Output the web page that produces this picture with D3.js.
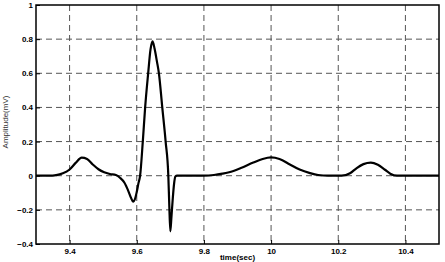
<!DOCTYPE html>
<html>
<head>
<meta charset="utf-8">
<script src="https://cdn.jsdelivr.net/npm/d3@7"></script>
<style>
  html, body { margin: 0; padding: 0; background: #fff; }
  svg { display: block; font-family: 'Liberation Sans', Arial, sans-serif; }
  .tick-label {
    font-family: 'Liberation Sans', Arial, sans-serif;
    font-size: 8px;
    font-weight: bold;
    fill: #000;
  }
</style>
</head>
<body>
<div id="chart"></div>
<script>
// samples
const timeSec = [
  9.30, 9.34, 9.36, 9.38, 9.399, 9.418, 9.436, 9.452, 9.469, 9.486, 9.503,
  9.520, 9.538, 9.550, 9.563, 9.575, 9.583, 9.589, 9.595, 9.600, 9.605, 9.610,
  9.618, 9.625, 9.634, 9.641, 9.647, 9.653, 9.660, 9.666, 9.676, 9.686, 9.694,
  9.697, 9.700, 9.703, 9.707, 9.711, 9.715, 9.72, 9.80, 9.83, 9.855, 9.878,
  9.91, 9.947, 9.975, 10.0, 10.025, 10.056, 10.085, 10.116, 10.14, 10.17,
  10.21, 10.235, 10.255, 10.275, 10.297, 10.318, 10.339, 10.355, 10.375, 10.5
];
const ecgMv = [
  0, 0, 0.003, 0.014, 0.035, 0.075, 0.106, 0.098, 0.066, 0.038, 0.02,
  0.01, 0.004, -0.012, -0.04, -0.09, -0.13, -0.152, -0.135, -0.095, -0.045, 0.0,
  0.2, 0.4, 0.6, 0.74, 0.787, 0.745, 0.67, 0.6, 0.4, 0.2, 0.0,
  -0.18, -0.326, -0.25, -0.14, -0.05, -0.005, 0, 0, 0.004, 0.012, 0.022,
  0.045, 0.077, 0.098, 0.107, 0.098, 0.066, 0.036, 0.015, 0.004, 0,
  0, 0.014, 0.045, 0.068, 0.077, 0.064, 0.035, 0.012, 0, 0
];
const xTicks = [9.4, 9.6, 9.8, 10, 10.2, 10.4];
const yTicks = [-0.4, -0.2, 0, 0.2, 0.4, 0.6, 0.8, 1];

const width = 445;
const height = 262;
const margin = { top: 5, right: 6, bottom: 18, left: 36 };
const plotW = width - margin.left - margin.right;
const plotH = height - margin.top - margin.bottom;

const svg = d3.select('#chart')
  .append('svg')
  .attr('width', width)
  .attr('height', height);

const fx = d3.scaleLinear().domain([9.3, 10.5]).range([0, plotW]);
const fy = d3.scaleLinear().domain([-0.4, 1]).range([plotH, 0]);

const graph = svg.append('g')
  .attr('transform', `translate(${margin.left}, ${margin.top})`);

// dashed grid
graph.selectAll('.grid-x')
  .data(xTicks)
  .join('line')
  .attr('class', 'grid-x')
  .attr('x1', d => fx(d)).attr('x2', d => fx(d))
  .attr('y1', 0).attr('y2', plotH)
  .attr('stroke', '#555')
  .attr('stroke-width', 1)
  .attr('stroke-dasharray', '6,4');

graph.selectAll('.grid-y')
  .data(yTicks.filter(d => d > -0.4 && d < 1))
  .join('line')
  .attr('class', 'grid-y')
  .attr('x1', 0).attr('x2', plotW)
  .attr('y1', d => fy(d)).attr('y2', d => fy(d))
  .attr('stroke', '#555')
  .attr('stroke-width', 1)
  .attr('stroke-dasharray', '6,4');

// axes, ticks pointing inward
const xAxis = graph.append('g')
  .attr('transform', `translate(0, ${plotH})`)
  .call(d3.axisBottom(fx).tickValues(xTicks).tickSize(-4).tickPadding(4)
    .tickFormat(d3.format('~g')));

const yAxis = graph.append('g')
  .call(d3.axisLeft(fy).tickValues(yTicks).tickSize(-4).tickPadding(3)
    .tickFormat(d3.format('~g')));

[xAxis, yAxis].forEach(ax => {
  ax.attr('font-family', null).attr('font-size', null);
  ax.select('.domain').remove();
  ax.selectAll('line').attr('stroke', '#000');
  ax.selectAll('text').attr('class', 'tick-label');
});

// the trace
const line = d3.line()
  .x((d, i) => fx(timeSec[i]))
  .y(d => fy(d))
  .curve(d3.curveMonotoneX);

graph.append('path')
  .datum(ecgMv)
  .attr('fill', 'none')
  .attr('stroke', '#000')
  .attr('stroke-width', 2.2)
  .attr('stroke-linejoin', 'round')
  .attr('d', line);

// frame
graph.append('rect')
  .attr('width', plotW)
  .attr('height', plotH)
  .attr('fill', 'none')
  .attr('stroke', '#000')
  .attr('stroke-width', 1.5);

// axis titles
svg.append('text')
  .attr('x', margin.left + plotW / 2)
  .attr('y', 260)
  .attr('text-anchor', 'middle')
  .attr('font-size', 8)
  .attr('font-weight', 'bold')
  .text('time(sec)');

svg.append('text')
  .attr('transform', 'translate(8, 122) rotate(-90)')
  .attr('text-anchor', 'middle')
  .attr('font-size', 8)
  .attr('fill', '#333')
  .text('Amplitude(mV)');
</script>
</body>
</html>
